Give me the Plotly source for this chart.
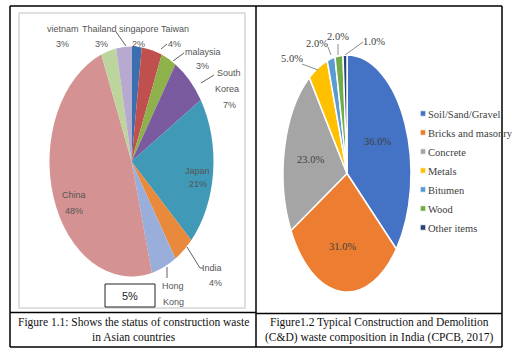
import plotly.graph_objects as go

W, H = 518, 357

# ---------------- data: Figure 1.1 (construction waste, Asian countries, %) -------------
asia_countries = ["singapore", "Taiwan", "malaysia", "South Korea", "Japan",
                  "India", "Hong Kong", "China", "Thailand", "vietnam"]
asia_share = [2, 4, 3, 7, 21, 4, 5, 48, 3, 3]
asia_colors = ["#3b6fb0", "#c0504d", "#8fb14c", "#7a5ba0", "#4099b6",
               "#e8893c", "#9aaedb", "#d49392", "#bbd59c", "#b8a9d0"]

# ---------------- data: Figure 1.2 (C&D waste composition in India, %) -------------------
cd_categories = ["Soil/Sand/Gravel", "Bricks and masonry", "Concrete", "Metals",
                 "Bitumen", "Wood", "Other items"]
cd_share = [36.0, 31.0, 23.0, 5.0, 2.0, 2.0, 1.0]
cd_colors = ["#4472c4", "#ed7d31", "#a5a5a5", "#ffc000", "#5b9bd5", "#70ad47", "#264478"]

caption_left = "Figure 1.1: Shows the status of construction waste<br>in Asian countries"
caption_right = "Figure1.2 Typical Construction and Demolition<br>(C&D) waste composition in India (CPCB, 2017)"


def fx(x):
    return x / W


def fy(y):
    return 1 - y / H


fig = go.Figure()

# left pie (circle, squeezed horizontally afterwards to Excel-like ellipse)
L_CX, L_CY, L_R, L_RX = 131.5, 161.5, 115, 82
fig.add_trace(go.Pie(
    labels=asia_countries, values=asia_share, sort=False, direction="clockwise",
    rotation=0, marker=dict(colors=asia_colors, line=dict(width=0)),
    textinfo="none", hoverinfo="label+percent", showlegend=False,
    domain=dict(x=[fx(L_CX - L_R), fx(L_CX + L_R)], y=[fy(L_CY + L_R), fy(L_CY - L_R)]),
))

# right pie
R_CX, R_CY, R_R, R_RX = 347, 173.5, 118.5, 64
fig.add_trace(go.Pie(
    labels=cd_categories, values=cd_share, sort=False, direction="clockwise",
    rotation=0, marker=dict(colors=cd_colors, line=dict(color="white", width=1.5)),
    textinfo="none", hoverinfo="label+percent", showlegend=True,
    domain=dict(x=[fx(R_CX - R_R), fx(R_CX + R_R)], y=[fy(R_CY + R_R), fy(R_CY - R_R)]),
))

annotations = []

# ---- left pie labels (one annotation per text line) ----
left_font = dict(family="Liberation Sans, Arial", size=9, color="#555555")
left_line_pos = {
    "vietnam": [(63, 29), (62, 44)],
    "Thailand": [(99.5, 29), (101, 44)],
    "singapore": [(138.5, 29), (138, 44)],
    "Taiwan": [(175, 29), (174, 44)],
    "malaysia": [(203, 52), (202, 66)],
    "South Korea": [(229, 73.5), (227, 89), (229, 105)],
    "Japan": [(197, 171), (198, 184)],
    "India": [(212, 268), (215, 283)],
    "Hong Kong": [(173, 286), (173, 302)],
    "China": [(74, 195), (74, 211)],
}
for name, val in zip(asia_countries, asia_share):
    parts = name.split(" ")
    if name != "Hong Kong":
        parts = parts + [f"{val}%"]
    for txt, (x, y) in zip(parts, left_line_pos[name]):
        annotations.append(dict(x=fx(x), y=fy(y), xref="paper", yref="paper", text=txt,
                                showarrow=False, font=left_font, xanchor="center", yanchor="middle"))

# Hong Kong value in the boxed label
hk_val = asia_share[asia_countries.index("Hong Kong")]
annotations.append(dict(x=fx(130), y=fy(296), xref="paper", yref="paper", text=f"{hk_val}%",
                        showarrow=False, font=dict(family="Liberation Sans, Arial", size=11, color="#222"),
                        xanchor="center", yanchor="middle"))

# ---- right pie labels ----
right_font = dict(family="Liberation Serif, Times New Roman", size=10.5, color="#404040")
right_label_pos = [(377, 142), (342, 246), (310, 159), (292, 59), (317, 43), (338, 37), (374, 41)]
for val, (x, y) in zip(cd_share, right_label_pos):
    annotations.append(dict(x=fx(x), y=fy(y), xref="paper", yref="paper", text=f"{val:.1f}%",
                            showarrow=False, font=right_font, xanchor="center", yanchor="middle"))

# ---- captions ----
cap_font = dict(family="Liberation Serif, Times New Roman", size=11.5, color="#111")
annotations.append(dict(x=fx(133), y=fy(329.5), xref="paper", yref="paper", text=caption_left,
                        showarrow=False, font=cap_font, xanchor="center", yanchor="middle"))
annotations.append(dict(x=fx(379), y=fy(329.5), xref="paper", yref="paper", text=caption_right,
                        showarrow=False, font=cap_font, xanchor="center", yanchor="middle"))

shapes = []


def line(x0, y0, x1, y1, color="black", width=1.5):
    shapes.append(dict(type="line", xref="paper", yref="paper", x0=fx(x0), y0=fy(y0),
                       x1=fx(x1), y1=fy(y1), line=dict(color=color, width=width)))


# table borders
line(10, 6, 502, 6)
line(10, 347, 502, 347)
line(10, 6, 10, 347)
line(256, 6, 256, 347)
line(502, 6, 502, 347)
line(10, 312.5, 256, 312.5)
line(256, 313.5, 502, 313.5)

# left chart area frame
shapes.append(dict(type="rect", xref="paper", yref="paper", x0=fx(19), y0=fy(308), x1=fx(245), y1=fy(13),
                   line=dict(color="#d6d6d6", width=1.5)))
# boxed 5%
shapes.append(dict(type="rect", xref="paper", yref="paper", x0=fx(105), y0=fy(307), x1=fx(155), y1=fy(284),
                   line=dict(color="#222", width=1)))

# leader lines left
lc = "#606060"
line(116, 32, 126, 46, lc, 1)
line(161, 49, 167, 44, lc, 1)
line(173, 61, 184, 53, lc, 1)
line(201, 83, 214, 75, lc, 1)
line(187, 247, 200, 268, lc, 1)
line(200, 268, 203, 268, lc, 1)
line(167, 267, 167, 278, lc, 1)
# leader lines right
rc = "#8c8c8c"
line(302, 64, 318, 70, rc, 1)
line(328, 47, 331, 55, rc, 1)
line(338, 44, 338, 55, rc, 1)
line(363, 42, 345, 55, rc, 1)

fig.update_layout(
    width=W, height=H, margin=dict(l=0, r=0, t=0, b=0),
    paper_bgcolor="white", plot_bgcolor="white",
    annotations=annotations, shapes=shapes,
    legend=dict(x=fx(388), y=fy(99), xanchor="left", yanchor="top",
                font=dict(family="Liberation Serif, Times New Roman", size=10.5, color="#404040"),
                bgcolor="rgba(0,0,0,0)", itemclick=False, itemdoubleclick=False),
)

post = """
var gd = document.getElementById('{plot_id}');
document.documentElement.style.margin='0';
document.body.style.margin='0';
document.body.style.overflow='hidden';
function squash(){
  var cfg = [[%f, %f], [%f, %f]];
  var tr = gd.querySelectorAll('.pielayer g.trace');
  for (var i = 0; i < tr.length && i < cfg.length; i++) {
    var c = cfg[i];
    tr[i].setAttribute('transform', 'translate(' + c[0] + ',0) scale(' + c[1] + ',1) translate(' + (-c[0]) + ',0)');
    tr[i].querySelectorAll('path').forEach(function(p){ p.setAttribute('vector-effect', 'non-scaling-stroke'); });
  }
  gd.querySelectorAll('.legend path.legendpie').forEach(function(p){
    p.setAttribute('transform', 'translate(35,0) scale(0.45)');
  });
}
squash();
gd.on('plotly_afterplot', squash);
""" % (L_CX, L_RX / L_R, R_CX, R_RX / R_R)

fig.write_html("out.html", post_script=post, config={"displayModeBar": False})
